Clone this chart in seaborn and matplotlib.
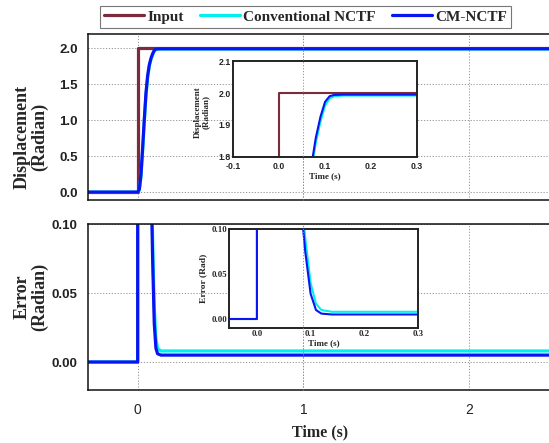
import numpy as np
import pandas as pd
import seaborn as sns
import matplotlib.pyplot as plt
from matplotlib.lines import Line2D
from matplotlib.ticker import MultipleLocator
from matplotlib.transforms import blended_transform_factory

# Step response samples (time in s, displacement in rad)
time_s = [-0.3, 0.0, 0.0, 0.01, 0.02, 0.03, 0.04, 0.05, 0.06, 0.07, 0.08,
          0.09, 0.10, 0.11, 0.12, 0.14, 2.5]
input_disp = [0, 0, 2, 2, 2, 2, 2, 2, 2, 2, 2, 2, 2, 2, 2, 2, 2]
conv_disp = [0, 0, 0, 0.03, 0.22, 0.58, 0.98, 1.34, 1.59, 1.75, 1.845,
             1.91, 1.96, 1.983, 1.99, 1.992, 1.992]
cm_disp = [0, 0, 0, 0.04, 0.25, 0.62, 1.02, 1.38, 1.62, 1.77, 1.86,
           1.925, 1.972, 1.99, 1.994, 1.995, 1.995]

series_names = ["Input", "Conventional NCTF", "CM-NCTF"]
colors = {"Input": "#7B2C3C", "Conventional NCTF": "#00F0F0", "CM-NCTF": "#0A14F0"}

n = len(time_s)
disp_df = pd.DataFrame({
    "t": time_s * 3,
    "value": input_disp + conv_disp + cm_disp,
    "series": [s for s in series_names for _ in range(n)],
})
inp = np.array(input_disp, dtype=float)
err_df = pd.DataFrame({
    "t": time_s * 2,
    "value": list(inp - np.array(conv_disp)) + list(inp - np.array(cm_disp)),
    "series": [s for s in series_names[1:] for _ in range(n)],
})

sns.set_style("white")
serif = ["Liberation Serif", "DejaVu Serif"]
sans = ["Liberation Sans", "DejaVu Sans"]
plt.rcParams["font.family"] = sans

fig = plt.figure(figsize=(5.49, 4.43), dpi=100)
ax1 = fig.add_axes([0.1603, 0.5485, 0.8447, 0.3747])
ax2 = fig.add_axes([0.1603, 0.1196, 0.8447, 0.3747])


def draw(ax, df, lw, names):
    sns.lineplot(data=df[df.series.isin(names)], x="t", y="value", hue="series",
                 hue_order=names, palette=colors, estimator=None, sort=False,
                 units="series", linewidth=lw, legend=False, ax=ax)
    ax.set_xlabel("")
    ax.set_ylabel("")


draw(ax1, disp_df, 2.3, series_names)
draw(ax2, err_df, 2.3, series_names[1:])

for ax in (ax1, ax2):
    ax.set_xlim(-0.3, 2.5)
    ax.xaxis.set_major_locator(MultipleLocator(1))
    ax.xaxis.set_minor_locator(MultipleLocator(0.5))
    ax.grid(True, which="major", linestyle=(0, (1.5, 2)), color="#888888", linewidth=0.6)
    ax.tick_params(which="major", direction="inout", length=8, width=1, color="#222222")
    ax.tick_params(which="minor", direction="inout", length=6, width=1, color="#222222")
    ax.tick_params(axis="y", which="both", right=False)
    ax.tick_params(axis="x", which="both", top=False, pad=5)
    for sp in ax.spines.values():
        sp.set_color("#111111")
        sp.set_linewidth(1.1)

ax1.set_ylim(-0.11, 2.2)
ax1.yaxis.set_major_locator(MultipleLocator(0.5))
ax1.yaxis.set_minor_locator(MultipleLocator(0.25))
ax1.yaxis.set_major_formatter(plt.FormatStrFormatter("%.1f"))
ax1.tick_params(axis="x", labelbottom=False)

ax2.set_ylim(-0.0203, 0.10)
ax2.yaxis.set_major_locator(MultipleLocator(0.05))
ax2.yaxis.set_minor_locator(MultipleLocator(0.025))
ax2.yaxis.set_major_formatter(plt.FormatStrFormatter("%.2f"))
ax2.xaxis.set_major_formatter(plt.FormatStrFormatter("%d"))

for ax in (ax1, ax2):
    for lab in ax.get_yticklabels():
        lab.set_fontweight("bold")
        lab.set_fontsize(9.5)
        lab.set_color("#222222")
for lab in ax2.get_xticklabels():
    lab.set_fontsize(10)
    lab.set_color("#222222")

ax1.set_ylabel("Displacement\n(Radian)", family=serif, fontweight="bold",
               fontsize=13, linespacing=1.05)
ax2.set_ylabel("Error\n(Radian)", family=serif, fontweight="bold",
               fontsize=13, linespacing=1.05)
ax2.set_xlabel("Time (s)", family=serif, fontweight="bold", fontsize=11.5, labelpad=6)
ax1.yaxis.set_label_coords(-0.086, 0.38)
ax2.yaxis.set_label_coords(-0.086, 0.56)

# Zoomed views
in1 = fig.add_axes([0.4244, 0.6456, 0.3352, 0.2167])
in2 = fig.add_axes([0.4171, 0.2596, 0.3443, 0.2235])
draw(in1, disp_df, 1.5, series_names)
draw(in2, err_df, 1.5, series_names[1:])

in1.set_xlim(-0.1, 0.3)
in1.set_ylim(1.8, 2.1)
in1.xaxis.set_major_locator(MultipleLocator(0.1))
in1.xaxis.set_minor_locator(MultipleLocator(0.05))
in1.yaxis.set_major_locator(MultipleLocator(0.1))
in1.yaxis.set_minor_locator(MultipleLocator(0.05))
in1.xaxis.set_major_formatter(plt.FormatStrFormatter("%.1f"))
in1.yaxis.set_major_formatter(plt.FormatStrFormatter("%.1f"))

in2.set_xlim(-0.052, 0.3)
in2.set_ylim(-0.01, 0.10)
in2.xaxis.set_major_locator(MultipleLocator(0.1))
in2.xaxis.set_minor_locator(MultipleLocator(0.05))
in2.yaxis.set_major_locator(MultipleLocator(0.05))
in2.yaxis.set_minor_locator(MultipleLocator(0.025))
in2.xaxis.set_major_formatter(plt.FormatStrFormatter("%.1f"))
in2.yaxis.set_major_formatter(plt.FormatStrFormatter("%.2f"))

for ins, fam in ((in1, sans), (in2, serif)):
    ins.set_facecolor("white")
    ins.tick_params(which="major", direction="in", length=3, width=1, pad=1.5,
                    labelsize=6.3, color="#222222")
    ins.tick_params(which="minor", direction="in", length=2, width=1)
    for sp in ins.spines.values():
        sp.set_color("#222222")
        sp.set_linewidth(1.4)
    for lab in ins.get_xticklabels() + ins.get_yticklabels():
        lab.set_fontweight("bold")
        lab.set_family(fam)
in1.tick_params(axis="x", which="major", pad=3.8)

in1.set_ylabel("Displacement\n(Radian)", family=serif, fontweight="bold",
               fontsize=6.5, linespacing=1.0)
in1.yaxis.set_label_coords(-0.125, 0.47)
in1.set_xlabel("Time (s)", family=serif, fontweight="bold", fontsize=6.5, labelpad=0.5)
in2.set_ylabel("Error (Rad)", family=serif, fontweight="bold", fontsize=6.8)
in2.yaxis.set_label_coords(-0.115, 0.5)
in2.set_xlabel("Time (s)", family=serif, fontweight="bold", fontsize=6.5, labelpad=1)

# Vertical grid line at t = 1 runs across the zoomed views as well
for ax in (ax1, ax2):
    tr = blended_transform_factory(ax.transData, ax.transAxes)
    fig.add_artist(Line2D([1, 1], [0, 1], transform=tr, linestyle=(0, (1.5, 2)),
                          color="#888888", linewidth=0.6, zorder=5))

handles = [Line2D([], [], color=colors[s], linewidth=2.3) for s in series_names]
leg = fig.legend(handles, series_names, loc="center", bbox_to_anchor=(0.5565, 0.962),
                 ncol=3, frameon=True, fancybox=False, edgecolor="#555555",
                 handlelength=2.6, handletextpad=0.25, columnspacing=1.05,
                 borderpad=0.25, borderaxespad=0,
                 prop={"family": serif, "weight": "bold", "size": 11})
leg.get_frame().set_linewidth(0.8)

fig.savefig("out.png", dpi=100)
